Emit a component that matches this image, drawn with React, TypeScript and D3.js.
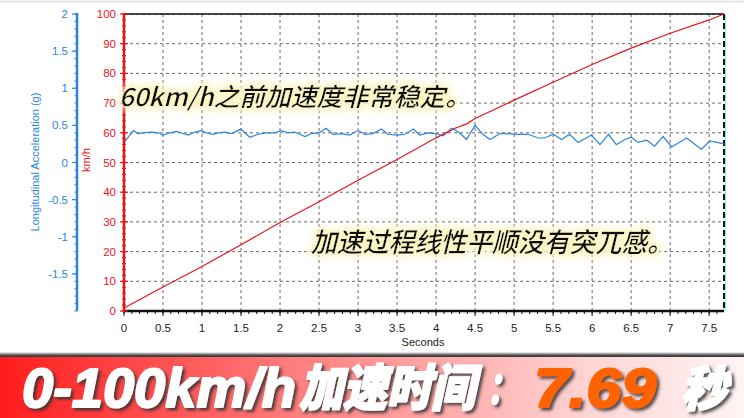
import React from "react";
import * as d3 from "d3";

// Speed (km/h) vs time (s)
const speedTime = [0, 0.5, 1.0, 1.5, 2.0, 2.5, 3.0, 3.5, 4.0, 4.25, 4.4, 4.5, 5.0, 5.5, 6.0, 6.5, 7.0, 7.5, 7.69];
const speedKmh = [1, 8.1, 15, 22.3, 29.8, 36.8, 44, 51, 58.3, 61.6, 63.1, 64.8, 71, 77, 83, 88.5, 93.5, 98, 100];

// Longitudinal acceleration (g) vs time (s)
const accelTime = [
  0.01, 0.12, 0.18, 0.24, 0.35, 0.44, 0.5, 0.59, 0.67, 0.73, 0.82, 0.91, 0.99, 1.08, 1.14, 1.21, 1.29, 1.38,
  1.5, 1.61, 1.72, 1.82, 1.93, 2.02, 2.1, 2.19, 2.32, 2.4, 2.5, 2.59, 2.68, 2.79, 2.89, 3.0, 3.09, 3.19, 3.3,
  3.38, 3.51, 3.6, 3.71, 3.79, 3.9, 4.0, 4.09, 4.2, 4.3, 4.39, 4.5, 4.6, 4.69, 4.82, 4.92, 5.05, 5.18, 5.31,
  5.39, 5.5, 5.61, 5.71, 5.82, 5.99, 6.1, 6.21, 6.31, 6.42, 6.5, 6.59, 6.7, 6.8, 6.91, 7.02, 7.21, 7.4, 7.51, 7.69,
];
const accelG = [
  0.28, 0.43, 0.39, 0.40, 0.41, 0.40, 0.37, 0.40, 0.42, 0.40, 0.37, 0.41, 0.43, 0.39, 0.38, 0.40, 0.41, 0.39,
  0.45, 0.34, 0.38, 0.40, 0.40, 0.43, 0.40, 0.41, 0.35, 0.39, 0.40, 0.46, 0.38, 0.39, 0.37, 0.43, 0.38, 0.39, 0.45,
  0.38, 0.37, 0.38, 0.45, 0.37, 0.40, 0.39, 0.36, 0.46, 0.40, 0.31, 0.50, 0.38, 0.31, 0.39, 0.39, 0.38, 0.38, 0.33,
  0.33, 0.38, 0.31, 0.38, 0.27, 0.37, 0.24, 0.38, 0.24, 0.31, 0.34, 0.27, 0.30, 0.22, 0.35, 0.21, 0.33, 0.18, 0.29, 0.25,
];

const xTicks = [0, 0.5, 1, 1.5, 2, 2.5, 3, 3.5, 4, 4.5, 5, 5.5, 6, 6.5, 7, 7.5];
const speedTicks = [0, 10, 20, 30, 40, 50, 60, 70, 80, 90, 100];
const accelTicks = [-1.5, -1, -0.5, 0, 0.5, 1, 1.5, 2];

const note1 = "60km/h之前加速度非常稳定。";
const note2 = "加速过程线性平顺没有突兀感。";
const bannerA = "0-100km/h";
const bannerB = "加速时间";
const bannerC = "：";
const bannerTime = "7.69";
const bannerUnit = "秒";

const W = 744;
const H = 418;
const L = 124, R = 724, T = 14, B = 311;

export default function App() {
  const x = d3.scaleLinear().domain([0, 7.69]).range([L, R]);
  const yS = d3.scaleLinear().domain([0, 100]).range([B, T]);
  const yA = d3.scaleLinear().domain([-2, 2]).range([B, T]);

  const speedLine = d3.line<number>().x((_, i) => x(speedTime[i])).y((d) => yS(d))(speedKmh) || "";
  const accelLine = d3.line<number>().x((_, i) => x(accelTime[i])).y((d) => yA(d))(accelG) || "";

  const xMinor = d3.range(0, 7.69, 0.1);
  const sMinor = d3.range(0, 100.01, 2);
  const aMinor = d3.range(-2, 2.001, 0.1);

  const tickFont = "'Liberation Sans', Arial, sans-serif";
  const cjk = "'Noto Sans CJK SC', sans-serif";
  const red = "#e8141c";
  const blue = "#2a86dc";

  return (
    <svg width={W} height={H} style={{ position: "absolute", left: 0, top: 0, background: "#fff" }}>
      <defs>
        <linearGradient id="banner" x1="0" x2="1" y1="0" y2="0">
          <stop offset="0" stopColor="#ff1c1c" />
          <stop offset="0.45" stopColor="#ff8a8a" />
          <stop offset="0.8" stopColor="#ffd6d6" />
          <stop offset="1" stopColor="#fff4f4" />
        </linearGradient>
        <linearGradient id="bannerTop" x1="0" x2="0" y1="0" y2="1">
          <stop offset="0" stopColor="#ffffff" />
          <stop offset="0.5" stopColor="#555" />
          <stop offset="1" stopColor="#222" />
        </linearGradient>
        <filter id="shadow" x="-10%" y="-30%" width="120%" height="160%">
          <feDropShadow dx="2.5" dy="2.5" stdDeviation="1.5" floodColor="#333" floodOpacity="0.85" />
        </filter>
        <filter id="glow" x="-5%" y="-40%" width="110%" height="180%">
          <feMorphology in="SourceAlpha" operator="dilate" radius="3" result="d" />
          <feGaussianBlur in="d" stdDeviation="3" result="b" />
          <feFlood floodColor="#fbf4c4" result="f" />
          <feComposite in="f" in2="b" operator="in" result="g" />
          <feMerge>
            <feMergeNode in="g" />
            <feMergeNode in="SourceGraphic" />
          </feMerge>
        </filter>
      </defs>
      <rect x={0} y={0} width={W} height={H} fill="#fff" />
      <line x1={0} x2={W} y1={1.5} y2={1.5} stroke="#dcdcdc" strokeWidth={1.5} />

      {/* grid */}
      {xTicks.map((t) => (
        <line key={"gx" + t} x1={x(t)} x2={x(t)} y1={T} y2={B} stroke="#6a6a6a" strokeDasharray="3,3" strokeWidth={1} />
      ))}
      {speedTicks.map((t) => (
        <line key={"gy" + t} x1={L} x2={R} y1={yS(t)} y2={yS(t)} stroke="#6a6a6a" strokeDasharray="3,3" strokeWidth={1} />
      ))}

      {/* frame */}
      <line x1={L} x2={R} y1={T} y2={T} stroke="#111" strokeWidth={1.5} />
      <line x1={R + 1.5} x2={R + 1.5} y1={T} y2={B} stroke="#7ff0f0" strokeWidth={1} />
      <line x1={R} x2={R} y1={T} y2={B} stroke="#111" strokeWidth={2} strokeDasharray="6,3" />

      {/* data */}
      <path d={accelLine} fill="none" stroke={blue} strokeWidth={1.2} />
      <path d={speedLine} fill="none" stroke={red} strokeWidth={1.2} />

      {/* x axis */}
      <line x1={L} x2={R} y1={B} y2={B} stroke="#111" strokeWidth={2.5} />
      {xMinor.map((t, i) => (
        <line key={"xm" + i} x1={x(t)} x2={x(t)} y1={B} y2={B + 3} stroke="#111" strokeWidth={1} />
      ))}
      {xTicks.map((t) => (
        <g key={"xt" + t}>
          <line x1={x(t)} x2={x(t)} y1={B} y2={B + 5} stroke="#111" strokeWidth={1} />
          <text x={x(t)} y={B + 21} textAnchor="middle" fontFamily={tickFont} fontSize={11.5} fill="#222">
            {t}
          </text>
        </g>
      ))}
      <text x={423} y={345.5} textAnchor="middle" fontFamily={tickFont} fontSize={11} fill="#222">
        Seconds
      </text>

      {/* speed axis (red) */}
      <line x1={L} x2={L} y1={T - 1} y2={B} stroke={red} strokeWidth={2.5} />
      {sMinor.map((t, i) => (
        <line key={"sm" + i} x1={L - 2} x2={L + 2} y1={yS(t)} y2={yS(t)} stroke={red} strokeWidth={1} />
      ))}
      {speedTicks.map((t) => (
        <g key={"st" + t}>
          <line x1={L - 4} x2={L + 4} y1={yS(t)} y2={yS(t)} stroke={red} strokeWidth={1.2} />
          <text x={L - 8} y={yS(t) + 4} textAnchor="end" fontFamily={tickFont} fontSize={11.5} fill={red}>
            {t}
          </text>
        </g>
      ))}
      <text transform={`translate(90,160) rotate(-90)`} textAnchor="middle" fontFamily={tickFont} fontSize={11} fill={red}>
        km/h
      </text>

      {/* acceleration axis (blue) */}
      <line x1={77} x2={77} y1={T - 1} y2={B} stroke={blue} strokeWidth={2.5} />
      {aMinor.map((t, i) => (
        <line key={"am" + i} x1={74.5} x2={77} y1={yA(t)} y2={yA(t)} stroke={blue} strokeWidth={1} />
      ))}
      {accelTicks.map((t) => (
        <g key={"at" + t}>
          <line x1={72} x2={77} y1={yA(t)} y2={yA(t)} stroke={blue} strokeWidth={1.2} />
          <text x={68} y={yA(t) + 4} textAnchor="end" fontFamily={tickFont} fontSize={11.5} fill={blue}>
            {t}
          </text>
        </g>
      ))}
      <text transform={`translate(39,162) rotate(-90)`} textAnchor="middle" fontFamily={tickFont} fontSize={11} fill={blue}>
        Longitudinal Acceleration (g)
      </text>

      {/* annotations */}
      <text x={119} y={106} fontFamily={cjk} fontSize={25} fontWeight={500} fontStyle="italic" fill="#111" filter="url(#glow)" textLength={352} lengthAdjust="spacingAndGlyphs">
        {note1}
      </text>
      <text x={311} y={252} fontFamily={cjk} fontSize={27} fontWeight={500} fontStyle="italic" fill="#111" filter="url(#glow)" textLength={362} lengthAdjust="spacingAndGlyphs">
        {note2}
      </text>

      {/* banner */}
      <rect x={0} y={352} width={W} height={6} fill="url(#bannerTop)" />
      <rect x={0} y={357} width={W} height={H - 357} fill="url(#banner)" />
      <g filter="url(#shadow)" fontStyle="italic" fontWeight={900} strokeLinejoin="round">
        <text x={22} y={407} fontFamily={"'Liberation Sans', Arial, sans-serif"} fontSize={55} fill="#fff" stroke="#fff" strokeWidth={2} textLength={274} lengthAdjust="spacingAndGlyphs">
          {bannerA}
        </text>
        <text x={299} y={406} fontFamily={cjk} fontSize={50} fill="#fff" stroke="#fff" strokeWidth={2} textLength={176} lengthAdjust="spacingAndGlyphs">
          {bannerB}
        </text>
        <text x={487} y={404} fontFamily={cjk} fontSize={44} fill="#fff" stroke="#fff" strokeWidth={1.5} textLength={30} lengthAdjust="spacingAndGlyphs">
          {bannerC}
        </text>
        <text x={534} y={407} fontFamily={"'Liberation Sans', Arial, sans-serif"} fontSize={55} fill="#ff6400" stroke="#ff6400" strokeWidth={2} textLength={122} lengthAdjust="spacingAndGlyphs">
          {bannerTime}
        </text>
        <text x={681} y={406} fontFamily={cjk} fontSize={48} fill="#fff" stroke="#fff" strokeWidth={2} textLength={46} lengthAdjust="spacingAndGlyphs">
          {bannerUnit}
        </text>
      </g>
    </svg>
  );
}
